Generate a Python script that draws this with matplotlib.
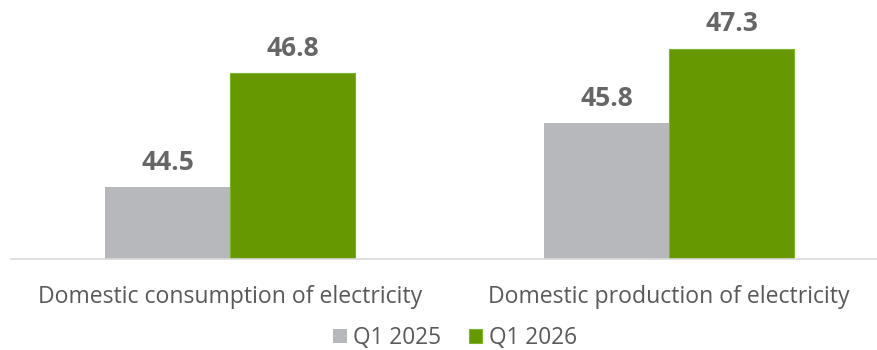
import numpy as np
import matplotlib.pyplot as plt

categories = ["Domestic consumption of electricity", "Domestic production of electricity"]
series_names = ["Q1 2025", "Q1 2026"]
q1_2025 = [44.5, 45.8]
q1_2026 = [46.8, 47.3]
colors = ["#B6B8BC", "#669900"]

plt.rcParams['font.family'] = ['Open Sans', 'DejaVu Sans']

fig = plt.figure(figsize=(8.77, 3.5), dpi=100)
# axes placed in pixel terms of the reference
ax = fig.add_axes([10.5 / 877, (350 - 259) / 350, 878 / 877, 259 / 350])

x = np.arange(len(categories))
w = 125 / 439

b1 = ax.bar(x - w / 2, q1_2025, w, color=colors[0], label=series_names[0])
b2 = ax.bar(x + w / 2, q1_2026, w, color=colors[1], edgecolor="#7DB32A", linewidth=0.8,
            label=series_names[1])

for bars in (b1, b2):
    ax.bar_label(bars, fmt="%.1f", padding=8, fontsize=19, fontweight="bold", color="#666666")

ax.set_xlim(-0.5, 1.5)
ax.set_ylim(43.05, 48.28)
ax.set_yticks([])
ax.set_xticks(x)
ax.set_xticklabels(categories, fontsize=16.6, color="#595959")
ax.tick_params(axis="x", length=0, pad=19)
for s in ["top", "right", "left"]:
    ax.spines[s].set_visible(False)
ax.spines["bottom"].set_color("#D9D9D9")
ax.spines["bottom"].set_linewidth(1.2)

fig.legend(loc="center", bbox_to_anchor=(455 / 877, 1 - 338 / 350), ncol=2, frameon=False,
           fontsize=16.3, labelcolor="#595959", handlelength=0.6, handleheight=0.6,
           handletextpad=0.3, columnspacing=1.2)

fig.savefig("out.png", dpi=100)
